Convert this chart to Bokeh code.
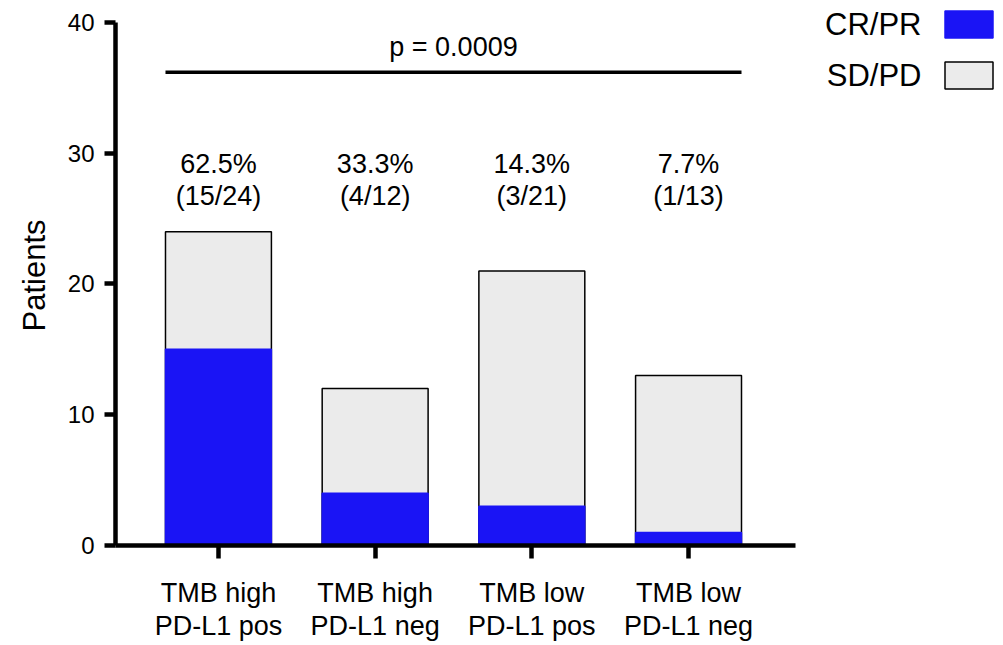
from bokeh.plotting import figure
from bokeh.models import Range1d, FixedTicker, ColumnDataSource
from bokeh.core.properties import value
from bokeh.embed import file_html
from bokeh.resources import INLINE

categories = ["TMB high\nPD-L1 pos", "TMB high\nPD-L1 neg", "TMB low\nPD-L1 pos", "TMB low\nPD-L1 neg"]
cr_pr = [15, 4, 3, 1]
sd_pd = [9, 8, 18, 12]
p_text = "p = 0.0009"
y_ticks = [0, 10, 20, 30, 40]
legend_labels = ["CR/PR", "SD/PD"]

FONT = "Liberation Sans"
BLUE = "#1a14f5"
GREY = "#ebebeb"

xs = [i + 1 for i in range(len(categories))]
totals = [a + b for a, b in zip(cr_pr, sd_pd)]
pct = [f"{100 * a / t:.1f}%" for a, t in zip(cr_pr, totals)]
frac = [f"({a}/{t})" for a, t in zip(cr_pr, totals)]

src = ColumnDataSource(dict(x=xs, cr=cr_pr, tot=totals, pct=pct, frac=frac))

W, H = 1000, 645
X0, X1 = 0.343, 4.683
p = figure(width=W, height=H, output_backend="svg", toolbar_location=None,
           x_range=Range1d(X0, 5.959), y_range=Range1d(0, 41.3),
           min_border_left=115, min_border_right=5, min_border_top=5, min_border_bottom=100)
p.outline_line_color = None
p.xgrid.visible = False
p.ygrid.visible = False
p.background_fill_color = "white"
p.extra_x_ranges = {"px": Range1d(115, 995)}
p.extra_y_ranges = {"py": Range1d(545, 5)}

bw = 0.676
p.vbar(x="x", top="tot", bottom=0, width=bw, source=src, fill_color=GREY,
       line_color="black", line_width=1.5)
p.vbar(x="x", top="cr", bottom=0, width=bw, source=src, fill_color=BLUE,
       line_color=BLUE, line_width=1.5)

p.text(x="x", y=29.2, text="pct", source=src, text_align="center", text_baseline="middle",
       text_font=value(FONT), text_font_size="27px", text_color="black")
p.text(x="x", y=26.7, text="frac", source=src, text_align="center", text_baseline="middle",
       text_font=value(FONT), text_font_size="27px", text_color="black")

p.segment(x0=[xs[0] - bw / 2], y0=[36.2], x1=[xs[-1] + bw / 2], y1=[36.2],
          line_color="black", line_width=3.5)
p.text(x=[(xs[0] + xs[-1]) / 2], y=[38.1], text=[p_text], text_align="center",
       text_baseline="middle", text_font=value(FONT), text_font_size="27px", text_color="black")

# axes
p.yaxis.bounds = (0, 40)
p.yaxis.ticker = FixedTicker(ticks=y_ticks)
p.yaxis.minor_tick_line_color = None
p.yaxis.axis_line_width = 4.5
p.yaxis.major_tick_line_width = 4.5
p.yaxis.major_tick_out = 11
p.yaxis.major_tick_in = 0
p.yaxis.major_label_standoff = 10
p.yaxis.major_label_text_font = FONT
p.yaxis.major_label_text_font_size = "24px"
p.yaxis.major_label_text_color = "black"
p.yaxis.axis_label = "Patients"
p.yaxis.axis_label_text_font = FONT
p.yaxis.axis_label_text_font_size = "31px"
p.yaxis.axis_label_text_font_style = "normal"
p.yaxis.axis_label_text_color = "black"
p.yaxis.axis_label_standoff = 13

p.xaxis.bounds = (X0, X1)
p.xaxis.ticker = FixedTicker(ticks=xs)
p.xaxis.major_label_overrides = {x: c for x, c in zip(xs, categories)}
p.xaxis.minor_tick_line_color = None
p.xaxis.axis_line_width = 4.5
p.xaxis.major_tick_line_width = 4.5
p.xaxis.major_tick_out = 13
p.xaxis.major_tick_in = 0
p.xaxis.major_label_standoff = 19
p.xaxis.major_label_text_font = FONT
p.xaxis.major_label_text_font_size = "27px"
p.xaxis.major_label_text_color = "black"
p.xaxis.major_label_text_line_height = 1.12

# legend (label left of swatch)
lsrc = ColumnDataSource(dict(label=legend_labels, fill=[BLUE, GREY], line=[BLUE, "black"],
                             ty=[24, 75], bx=[968.5, 968.5]))
p.text(x=921, y="ty", text="label", source=lsrc, text_align="right", text_baseline="middle",
       text_font=value(FONT), text_font_size="31px", text_color="black",
       x_range_name="px", y_range_name="py")
p.rect(x="bx", y="ty", width=48, height=27, source=lsrc, fill_color="fill",
       line_color="line", line_width=1.5, x_range_name="px", y_range_name="py")

open("out.html", "w").write(file_html(p, INLINE))
